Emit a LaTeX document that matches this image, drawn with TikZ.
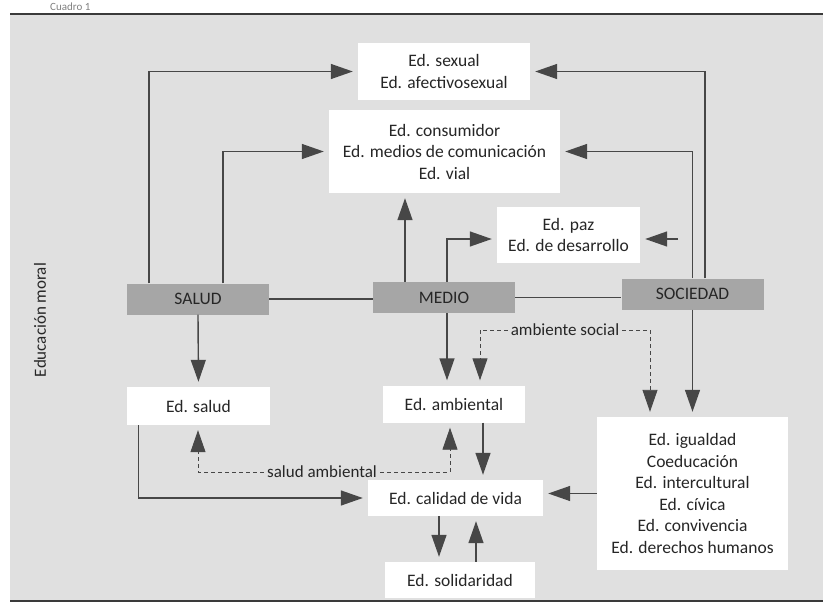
\documentclass[tikz,border=0pt]{standalone}
\usepackage{fontspec}
\setmainfont{Carlito}
\usetikzlibrary{arrows.meta}
\definecolor{cpanel}{HTML}{E0E0E0}
\definecolor{cbar}{HTML}{A6A6A6}
\definecolor{cline}{HTML}{474747}
\definecolor{crule}{HTML}{3A3A3A}
\definecolor{ctext}{HTML}{262626}
\tikzset{
  box/.style={fill=white, align=center, inner sep=0pt, text=ctext, font=\fontsize{17.5}{21.5}\selectfont},
  bar/.style={fill=cbar, minimum width=142pt, minimum height=31pt, inner sep=0pt, text=ctext, font=\fontsize{17.5}{20}\selectfont},
  arrow/.style={-{Triangle[length=22pt, width=15pt]}, draw=cline, line width=1.4pt, shorten >=5pt},
  link/.style={draw=cline, line width=1.4pt},
  dasharrow/.style={-{Triangle[length=22pt, width=15pt]}, draw=cline, line width=0.9pt, dash pattern=on 4pt off 3pt, shorten >=5pt},
  note/.style={text=ctext, inner sep=3pt, font=\fontsize{17}{20}\selectfont},
}

\begin{document}
\begin{tikzpicture}[x=1pt, y=-1pt]
  \useasboundingbox (0,0) rectangle (823,616);
  \fill[cpanel] (10,15) rectangle (823,601);
  \draw[crule, line width=2.5pt] (10,14) -- (823,14);
  \draw[crule, line width=2.5pt] (10,601) -- (823,601);
  \node[anchor=base west, inner sep=0pt, text=gray, font=\fontsize{11}{12}\selectfont] (cuadro) at (50,10) {Cuadro 1};
  \node[note, rotate=90] (moral) at (40,320) {Educación moral};

  \node[box, minimum width=172pt, minimum height=57pt] (sexual) at (444,71.5) {Ed. sexual\\Ed. afectivosexual};
  \node[box, minimum width=231pt, minimum height=83pt] (consumo) at (444.5,151.5) {Ed. consumidor\\Ed. medios de comunicación\\Ed. vial};
  \node[box, minimum width=143pt, minimum height=56pt] (paz) at (568.5,235) {Ed. paz\\Ed. de desarrollo};
  \node[bar] (salud) at (198,299) {SALUD};
  \node[bar] (medio) at (444,297.5) {MEDIO};
  \node[bar] (sociedad) at (692.5,294) {SOCIEDAD};
  \node[box, minimum width=143pt, minimum height=38pt] (edsalud) at (198.5,406) {Ed. salud};
  \node[box, minimum width=142pt, minimum height=37pt] (ambiental) at (454,404) {Ed. ambiental};
  \node[box, minimum width=175pt, minimum height=36pt] (calidad) at (455.5,498) {Ed. calidad de vida};
  \node[box, minimum width=150pt, minimum height=36pt] (solidaridad) at (460,580) {Ed. solidaridad};
  \node[box, minimum width=191pt, minimum height=153pt] (derechos) at (692.5,493.5) {Ed. igualdad\\Coeducación\\Ed. intercultural\\Ed. cívica\\Ed. convivencia\\Ed. derechos humanos};
  \node[note] (ambsoc) at (565,330) {ambiente social};
  \node[note] (salamb) at (322,472) {salud ambiental};

  \coordinate (medioup) at ([xshift=-39pt]medio.north);
  \draw[arrow] ([xshift=-49pt]salud.north) |- (sexual.west);
  \draw[arrow] ([xshift=25pt]salud.north) |- (consumo.west);
  \draw[arrow] ([xshift=12.5pt]sociedad.north) |- (sexual.east);
  \draw[arrow] (sociedad.north) |- (consumo.east);
  \draw[arrow] (medioup) -- (medioup |- consumo.south);
  \draw[arrow] ([xshift=3pt]medio.north) |- ([yshift=-4pt]paz.west);
  \draw[arrow] ([xshift=38pt, yshift=-4pt]paz.east) -- ([yshift=-4pt]paz.east);
  \draw[link] (salud.east) -- (salud.east -| medio.west);
  \draw[link] (medio.east) -- (medio.east -| sociedad.west);
  \draw[arrow] (salud.south) -- (edsalud.north);
  \draw[arrow] ([xshift=3pt]medio.south) -- ([xshift=-7pt]ambiental.north);
  \draw[arrow] (sociedad.south) -- (derechos.north);
  \draw[dasharrow] (ambsoc.west) -| ([xshift=26pt]ambiental.north);
  \draw[dasharrow] (ambsoc.east) -| ([xshift=-42.5pt]derechos.north);
  \draw[dasharrow] (salamb.west) -| ([xshift=-0.5pt]edsalud.south);
  \draw[dasharrow] (salamb.east) -| ([xshift=-4pt]ambiental.south);
  \draw[arrow] ([xshift=-60pt]edsalud.south) |- (calidad.west);
  \draw[arrow] ([xshift=29pt]ambiental.south) -- ([xshift=27.5pt]calidad.north);
  \draw[arrow] (derechos.west) -- (derechos.west -| calidad.east);
  \draw[arrow] ([xshift=-16.5pt]calidad.south) -- ([xshift=-21pt]solidaridad.north);
  \draw[arrow] ([xshift=16pt]solidaridad.north) -- ([xshift=20.5pt]calidad.south);
\end{tikzpicture}
\end{document}
